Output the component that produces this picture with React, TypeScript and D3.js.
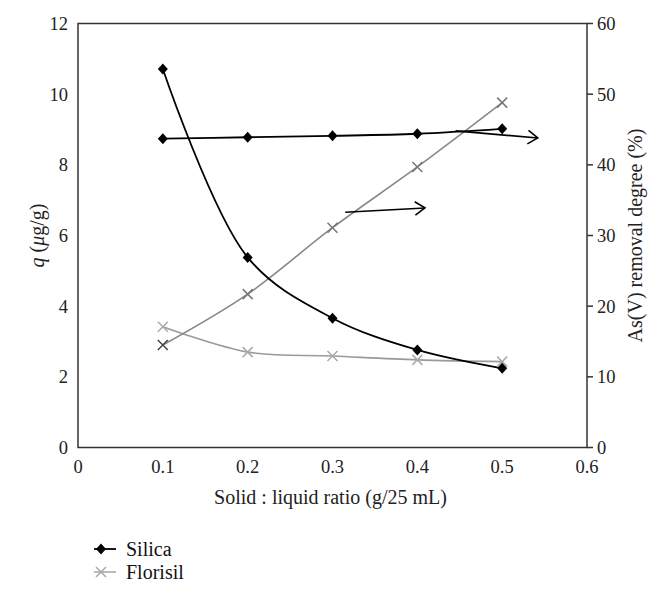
import React from "react";
import * as d3 from "d3";

const ratios = [0.1, 0.2, 0.3, 0.4, 0.5];
const silicaQ = [10.71, 5.38, 3.66, 2.76, 2.24];
const silicaRemoval = [43.7, 43.9, 44.1, 44.4, 45.1];
const florisilQ = [3.42, 2.7, 2.59, 2.48, 2.43];
const florisilRemoval = [14.5, 21.7, 31.1, 39.7, 48.8];
const xTicks = [0, 0.1, 0.2, 0.3, 0.4, 0.5, 0.6];
const leftTicks = [0, 2, 4, 6, 8, 10, 12];
const rightTicks = [0, 10, 20, 30, 40, 50, 60];
// arrows pointing to the right axis, in data units (x ratio, right-axis %)
const arrowX = [[0.445, 0.542], [0.315, 0.409]];
const arrowY = [[44.8, 43.8], [33.3, 33.9]];

const W = 665, H = 598;
const L = 78, R = 587, T = 23.5, B = 447.5;
const FONT = "'Liberation Serif', 'DejaVu Serif', serif";
const TICK_FS = 18.5;
const TITLE_FS = 20;

export default function App() {
  const x = d3.scaleLinear().domain([0, 0.6]).range([L, R]);
  const yL = d3.scaleLinear().domain([0, 12]).range([B, T]);
  const yR = d3.scaleLinear().domain([0, 60]).range([B, T]);
  const curve = d3.curveCatmullRom.alpha(0.5);
  const lineL = d3.line<[number, number]>().x(d => x(d[0])).y(d => yL(d[1])).curve(curve);
  const lineR = d3.line<[number, number]>().x(d => x(d[0])).y(d => yR(d[1])).curve(curve);
  const pts = (vals: number[]) => ratios.map((r, i) => [r, vals[i]] as [number, number]);

  const diamond = (cx: number, cy: number, k: string) => (
    <path key={k} d={`M${cx},${cy - 5.5}L${cx + 5},${cy}L${cx},${cy + 5.5}L${cx - 5},${cy}Z`} fill="#000" />
  );
  const cross = (cx: number, cy: number, k: string, c: string) => (
    <path key={k} d={`M${cx - 5},${cy - 5}L${cx + 5},${cy + 5}M${cx - 5},${cy + 5}L${cx + 5},${cy - 5}`} stroke={c} strokeWidth={1.5} fill="none" />
  );

  return (
    <svg width={W} height={H} style={{ position: "absolute", left: 0, top: 0, background: "#fff" }} fontFamily={FONT}>
      <rect x={0} y={0} width={W} height={H} fill="#fff" />
      {/* frame */}
      <rect x={L} y={T} width={R - L} height={B - T} fill="none" stroke="#333" strokeWidth={1.5} />
      {/* right ticks */}
      {rightTicks.map(t => (
        <g key={"rt" + t}>
          <line x1={R} x2={R + 6} y1={yR(t)} y2={yR(t)} stroke="#333" strokeWidth={1.5} />
          <text x={R + 10} y={yR(t)} dy="0.35em" fontSize={TICK_FS} fill="#222">{t}</text>
        </g>
      ))}
      {leftTicks.map(t => (
        <text key={"lt" + t} x={L - 10} y={yL(t)} dy="0.35em" fontSize={TICK_FS} textAnchor="end" fill="#222">{t}</text>
      ))}
      {xTicks.map(t => (
        <text key={"xt" + t} x={x(t)} y={B + 25} fontSize={TICK_FS} textAnchor="middle" fill="#222">{t === 0 ? "0" : d3.format(".1f")(t)}</text>
      ))}
      <text x={(L + R) / 2 - 2} y={B + 56} fontSize={TITLE_FS} textAnchor="middle" fill="#222">Solid : liquid ratio (g/25 mL)</text>
      <text transform={`translate(44,${(T + B) / 2}) rotate(-90)`} fontSize={TITLE_FS} textAnchor="middle" fill="#222">
        <tspan fontStyle="italic">q</tspan> (<tspan fontStyle="italic">μ</tspan>g/g)
      </text>
      <text transform={`translate(642,${(T + B) / 2}) rotate(-90)`} fontSize={TITLE_FS} textAnchor="middle" fill="#222">As(V) removal degree (%)</text>

      {/* series */}
      <path d={lineL(pts(florisilQ)) || ""} fill="none" stroke="#9a9a9a" strokeWidth={1.6} />
      <path d={lineR(pts(florisilRemoval)) || ""} fill="none" stroke="#888" strokeWidth={1.6} />
      <path d={lineL(pts(silicaQ)) || ""} fill="none" stroke="#000" strokeWidth={1.8} />
      <path d={lineR(pts(silicaRemoval)) || ""} fill="none" stroke="#000" strokeWidth={1.8} />
      {ratios.map((r, i) => cross(x(r), yL(florisilQ[i]), "fq" + i, "#aaa"))}
      {ratios.map((r, i) => cross(x(r), yR(florisilRemoval[i]), "fr" + i, i === 0 ? "#444" : "#777"))}
      {ratios.map((r, i) => diamond(x(r), yL(silicaQ[i]), "sq" + i))}
      {ratios.map((r, i) => diamond(x(r), yR(silicaRemoval[i]), "sr" + i))}

      {/* arrows */}
      {arrowX.map((ax, i) => {
        const x1 = x(ax[0]), x2 = x(ax[1]), y1 = yR(arrowY[i][0]), y2 = yR(arrowY[i][1]);
        const ang = Math.atan2(y2 - y1, x2 - x1);
        const h = 12, a = 0.6;
        const p1 = [x2 - h * Math.cos(ang - a), y2 - h * Math.sin(ang - a)];
        const p2 = [x2 - h * Math.cos(ang + a), y2 - h * Math.sin(ang + a)];
        return (
          <g key={"ar" + i} stroke="#000" strokeWidth={1.6} fill="none">
            <line x1={x1} y1={y1} x2={x2} y2={y2} />
            <path d={`M${p1[0]},${p1[1]}L${x2},${y2}L${p2[0]},${p2[1]}`} />
          </g>
        );
      })}

      {/* legend */}
      <line x1={94} x2={116} y1={549} y2={549} stroke="#000" strokeWidth={1.8} />
      {diamond(101, 549, "lg1")}
      <text x={126} y={549} dy="0.35em" fontSize={TITLE_FS} fill="#111">Silica</text>
      <line x1={94} x2={116} y1={572} y2={572} stroke="#aaa" strokeWidth={1.6} />
      {cross(101, 572, "lg2", "#aaa")}
      <text x={126} y={572} dy="0.35em" fontSize={TITLE_FS} fill="#111">Florisil</text>
    </svg>
  );
}
